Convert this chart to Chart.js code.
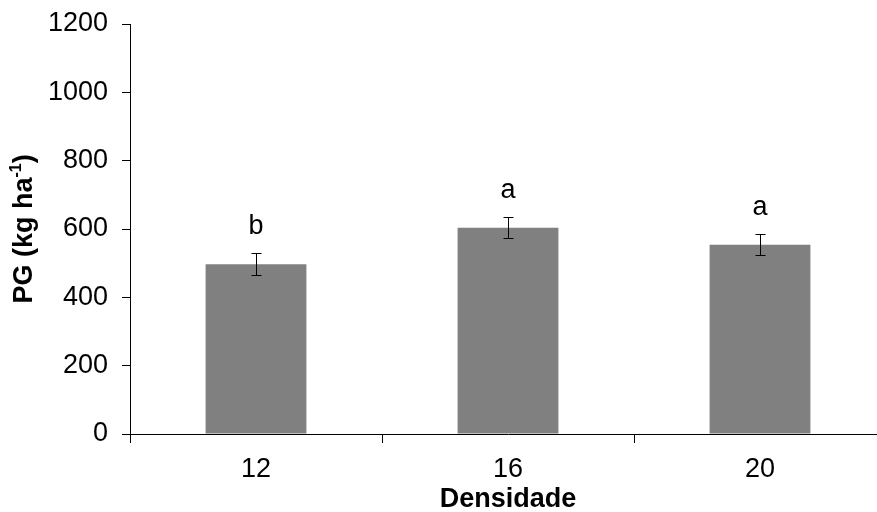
<!DOCTYPE html>
<html>
<head>
<meta charset="utf-8">
<script src="https://cdn.jsdelivr.net/npm/chart.js@4/dist/chart.umd.min.js"></script>
<style>
  html, body { margin: 0; padding: 0; background: #fff; overflow: hidden; }
  #wrap { width: 892px; height: 512px; }
</style>
</head>
<body>
<div id="wrap"><canvas id="chart" width="892" height="512"></canvas></div>
<script>
// data
const categories = ['12', '16', '20'];
const pgValues = [497, 604, 554];
const pgErrors = [32, 30, 30];
const letters = ['b', 'a', 'a'];
const yMin = 0;
const yMax = 1200;
const yStep = 200;

const FONT = '"Liberation Sans", Arial, sans-serif';

// error bars + significance letters
const extrasPlugin = {
    id: 'extras',
    afterDatasetsDraw(chart) {
        const ctx = chart.ctx;
        const meta = chart.getDatasetMeta(0);
        const y = chart.scales.y;
        ctx.save();
        ctx.strokeStyle = '#000';
        ctx.lineWidth = 1;
        meta.data.forEach((bar, i) => {
            const x = Math.round(bar.x) + 0.5;
            const top = Math.round(y.getPixelForValue(pgValues[i] + pgErrors[i])) + 0.5;
            const bot = Math.round(y.getPixelForValue(pgValues[i] - pgErrors[i])) + 0.5;
            ctx.beginPath();
            ctx.moveTo(x, top); ctx.lineTo(x, bot);
            ctx.moveTo(x - 5, top); ctx.lineTo(x + 5, top);
            ctx.moveTo(x - 5, bot); ctx.lineTo(x + 5, bot);
            ctx.stroke();

            ctx.fillStyle = '#000';
            ctx.font = '27px ' + FONT;
            ctx.textAlign = 'center';
            ctx.textBaseline = 'middle';
            ctx.fillText(letters[i], bar.x, top - 27);
        });
        ctx.restore();
    },
    afterDraw(chart) {
        // y axis title with superscript
        const ctx = chart.ctx;
        const y = chart.scales.y;
        const cy = (y.top + y.bottom) / 2;
        const main = 'PG (kg ha';
        const sup = '-1';
        const end = ')';
        ctx.save();
        ctx.translate(25, cy);
        ctx.rotate(-Math.PI / 2);
        ctx.fillStyle = '#000';
        ctx.textBaseline = 'middle';
        ctx.textAlign = 'left';
        ctx.font = 'bold 27px ' + FONT;
        const w1 = ctx.measureText(main).width;
        const w3 = ctx.measureText(end).width;
        ctx.font = 'bold 16px ' + FONT;
        const w2 = ctx.measureText(sup).width;
        let x = -(w1 + w2 + w3) / 2;
        ctx.font = 'bold 27px ' + FONT;
        ctx.fillText(main, x, 0);
        x += w1;
        ctx.font = 'bold 16px ' + FONT;
        ctx.fillText(sup, x, -8);
        x += w2;
        ctx.font = 'bold 27px ' + FONT;
        ctx.fillText(end, x, 0);
        ctx.restore();
    }
};

new Chart(document.getElementById('chart').getContext('2d'), {
    type: 'bar',
    data: {
        labels: categories,
        datasets: [{
            data: pgValues,
            backgroundColor: '#808080',
            borderWidth: 0,
            categoryPercentage: 1,
            barPercentage: 0.4
        }]
    },
    options: {
        responsive: false,
        animation: false,
        devicePixelRatio: 1,
        layout: { padding: { top: 24, right: 6, bottom: 0, left: 0 } },
        plugins: {
            legend: { display: false },
            tooltip: { enabled: false }
        },
        scales: {
            x: {
                grid: {
                    offset: true,
                    drawOnChartArea: false,
                    drawTicks: true,
                    tickLength: 9,
                    color: '#000'
                },
                border: { display: true, color: '#000', width: 1 },
                ticks: { color: '#000', font: { family: FONT, size: 27 }, padding: 10 },
                title: {
                    display: true,
                    text: 'Densidade',
                    color: '#000',
                    font: { family: FONT, size: 27, weight: 'bold', lineHeight: 1 },
                    padding: { top: 0, bottom: -1 }
                },
                afterFit(scale) {
                    scale.height = 78;
                    scale.paddingLeft = 0;
                    scale.paddingRight = 0;
                }
            },
            y: {
                min: yMin,
                max: yMax,
                ticks: {
                    stepSize: yStep,
                    color: '#000',
                    font: { family: FONT, size: 27 },
                    padding: 14,
                    callback: value => String(value)
                },
                grid: {
                    drawOnChartArea: false,
                    drawTicks: true,
                    tickLength: 8,
                    color: '#000'
                },
                border: { display: true, color: '#000', width: 1 },
                afterFit(scale) {
                    scale.width = 130;
                    scale.paddingTop = 0;
                    scale.paddingBottom = 0;
                }
            }
        }
    },
    plugins: [extrasPlugin]
});
</script>
</body>
</html>
